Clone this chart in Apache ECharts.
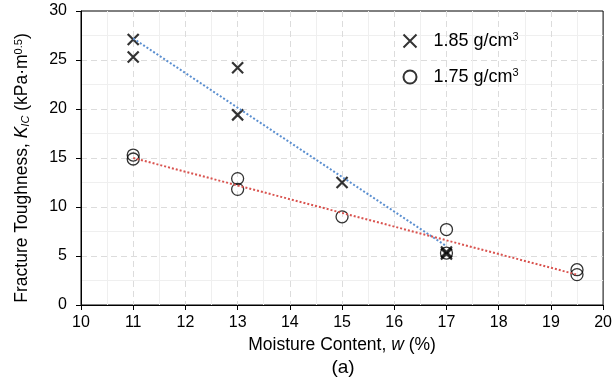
<!DOCTYPE html>
<html>
<head>
<meta charset="utf-8">
<script src="https://cdn.jsdelivr.net/npm/echarts@6/dist/echarts.min.js"></script>
<style>
  html, body { margin: 0; padding: 0; background: #fff; }
  #chart { width: 615px; height: 391px; }
</style>
</head>
<body>
<div id="chart"></div>
<script>
// 1.85 g/cm3 points [w, K]
const dense = [[11, 27.1], [11, 25.3], [13, 24.2], [13, 19.4], [15, 12.5], [17, 5.2], [17, 5.4]];
// 1.75 g/cm3 points
const loose = [[11, 15.3], [11, 14.9], [13, 12.9], [13, 11.8], [15, 9.0], [17, 7.7], [17, 5.3], [19.5, 3.6], [19.5, 3.1]];
// trend lines
const denseTrend = [[11, 27.2], [17, 6.0]];
const looseTrend = [[11, 15.0], [19.5, 3.1]];

const font = 'Liberation Sans, Arial, sans-serif';
const cross = 'path://M0,0L10,10M10,0L0,10';

const chart = echarts.init(document.getElementById('chart'));
chart.setOption({
    animation: false,
    textStyle: { fontFamily: font },
    title: {
        text: '(a)',
        left: 343,
        textAlign: 'center',
        top: 358,
        padding: 0,
        textStyle: { fontFamily: font, fontSize: 19, fontWeight: 'normal', color: '#000' }
    },
    grid: {
        left: 81, right: 9, top: 11, bottom: 86,
        show: true, borderColor: '#000', borderWidth: 1
    },
    legend: {
        orient: 'vertical',
        left: 396,
        top: 26,
        itemGap: 17,
        itemWidth: 13,
        itemHeight: 13,
        data: ['1.85', '1.75'],
        formatter: (n) => `{a|${n} g/cm}{s|3}`,
        textStyle: {
            fontFamily: font,
            rich: {
                a: { fontSize: 18, lineHeight: 20, color: '#000', padding: [0, 0, 0, 12] },
                s: { fontSize: 11, lineHeight: 20, color: '#000', verticalAlign: 'top', padding: [0, 0, 8, 0] }
            }
        }
    },
    xAxis: {
        type: 'value',
        min: 10, max: 20, interval: 1,
        name: '{n|Moisture Content, }{i|w}{n| (%)}',
        nameLocation: 'middle',
        nameGap: 31,
        nameTextStyle: {
            rich: {
                n: { fontFamily: font, fontSize: 17.5, color: '#000' },
                i: { fontFamily: font, fontSize: 17.5, color: '#000', fontStyle: 'italic' }
            }
        },
        axisLine: { show: true, lineStyle: { color: '#000', width: 1 } },
        axisTick: { show: true, length: 5, lineStyle: { color: '#000' } },
        axisLabel: { fontSize: 16, color: '#000', margin: 10, fontFamily: font },
        splitLine: { show: true, showMinLine: false, showMaxLine: false, lineStyle: { color: '#dcdcdc', type: [6, 4] } },
        minorTick: { show: false, splitNumber: 2 },
        minorSplitLine: { show: true, lineStyle: { color: '#efefef' } }
    },
    yAxis: {
        type: 'value',
        min: 0, max: 30, interval: 5,
        name: '{n|Fracture Toughness, }{i|K}{sb|IC}{n| (kPa·m}{sp|0.5}{n|)}',
        nameLocation: 'middle',
        nameGap: 50,
        nameRotate: 90,
        nameTextStyle: {
            padding: [0, 20, 0, 0],
            rich: {
                n: { fontFamily: font, fontSize: 17.5, color: '#000' },
                i: { fontFamily: font, fontSize: 17.5, color: '#000', fontStyle: 'italic' },
                sb: { fontFamily: font, fontSize: 11, color: '#000', fontStyle: 'italic', verticalAlign: 'bottom', padding: [7, 0, 0, 0] },
                sp: { fontFamily: font, fontSize: 11, color: '#000', verticalAlign: 'top', padding: [0, 0, 7, 0] }
            }
        },
        axisLine: { show: true, lineStyle: { color: '#000', width: 1 } },
        axisTick: { show: true, length: 5, lineStyle: { color: '#000' } },
        axisLabel: { fontSize: 16, color: '#000', margin: 14, fontFamily: font },
        splitLine: { show: true, showMinLine: false, showMaxLine: false, lineStyle: { color: '#dcdcdc', type: [6, 4] } },
        minorTick: { show: false, splitNumber: 2 },
        minorSplitLine: { show: true, lineStyle: { color: '#efefef' } }
    },
    series: [
        {
            name: '1.85t', type: 'line', data: denseTrend, symbol: 'none', silent: true,
            lineStyle: { color: '#5b8fd0', width: 2, type: [2, 2] }
        },
        {
            name: '1.75t', type: 'line', data: looseTrend, symbol: 'none', silent: true,
            lineStyle: { color: '#d9534f', width: 2, type: [2, 2] }
        },
        {
            name: '1.85', type: 'scatter', data: dense,
            symbol: cross, symbolSize: 11,
            itemStyle: { color: 'none', borderColor: '#000', borderWidth: 2.2 }
        },
        {
            name: '1.75', type: 'scatter', data: loose,
            symbol: 'circle', symbolSize: 12,
            itemStyle: { color: 'none', borderColor: '#000', borderWidth: 1.3 }
        }
    ]
});
</script>
</body>
</html>
